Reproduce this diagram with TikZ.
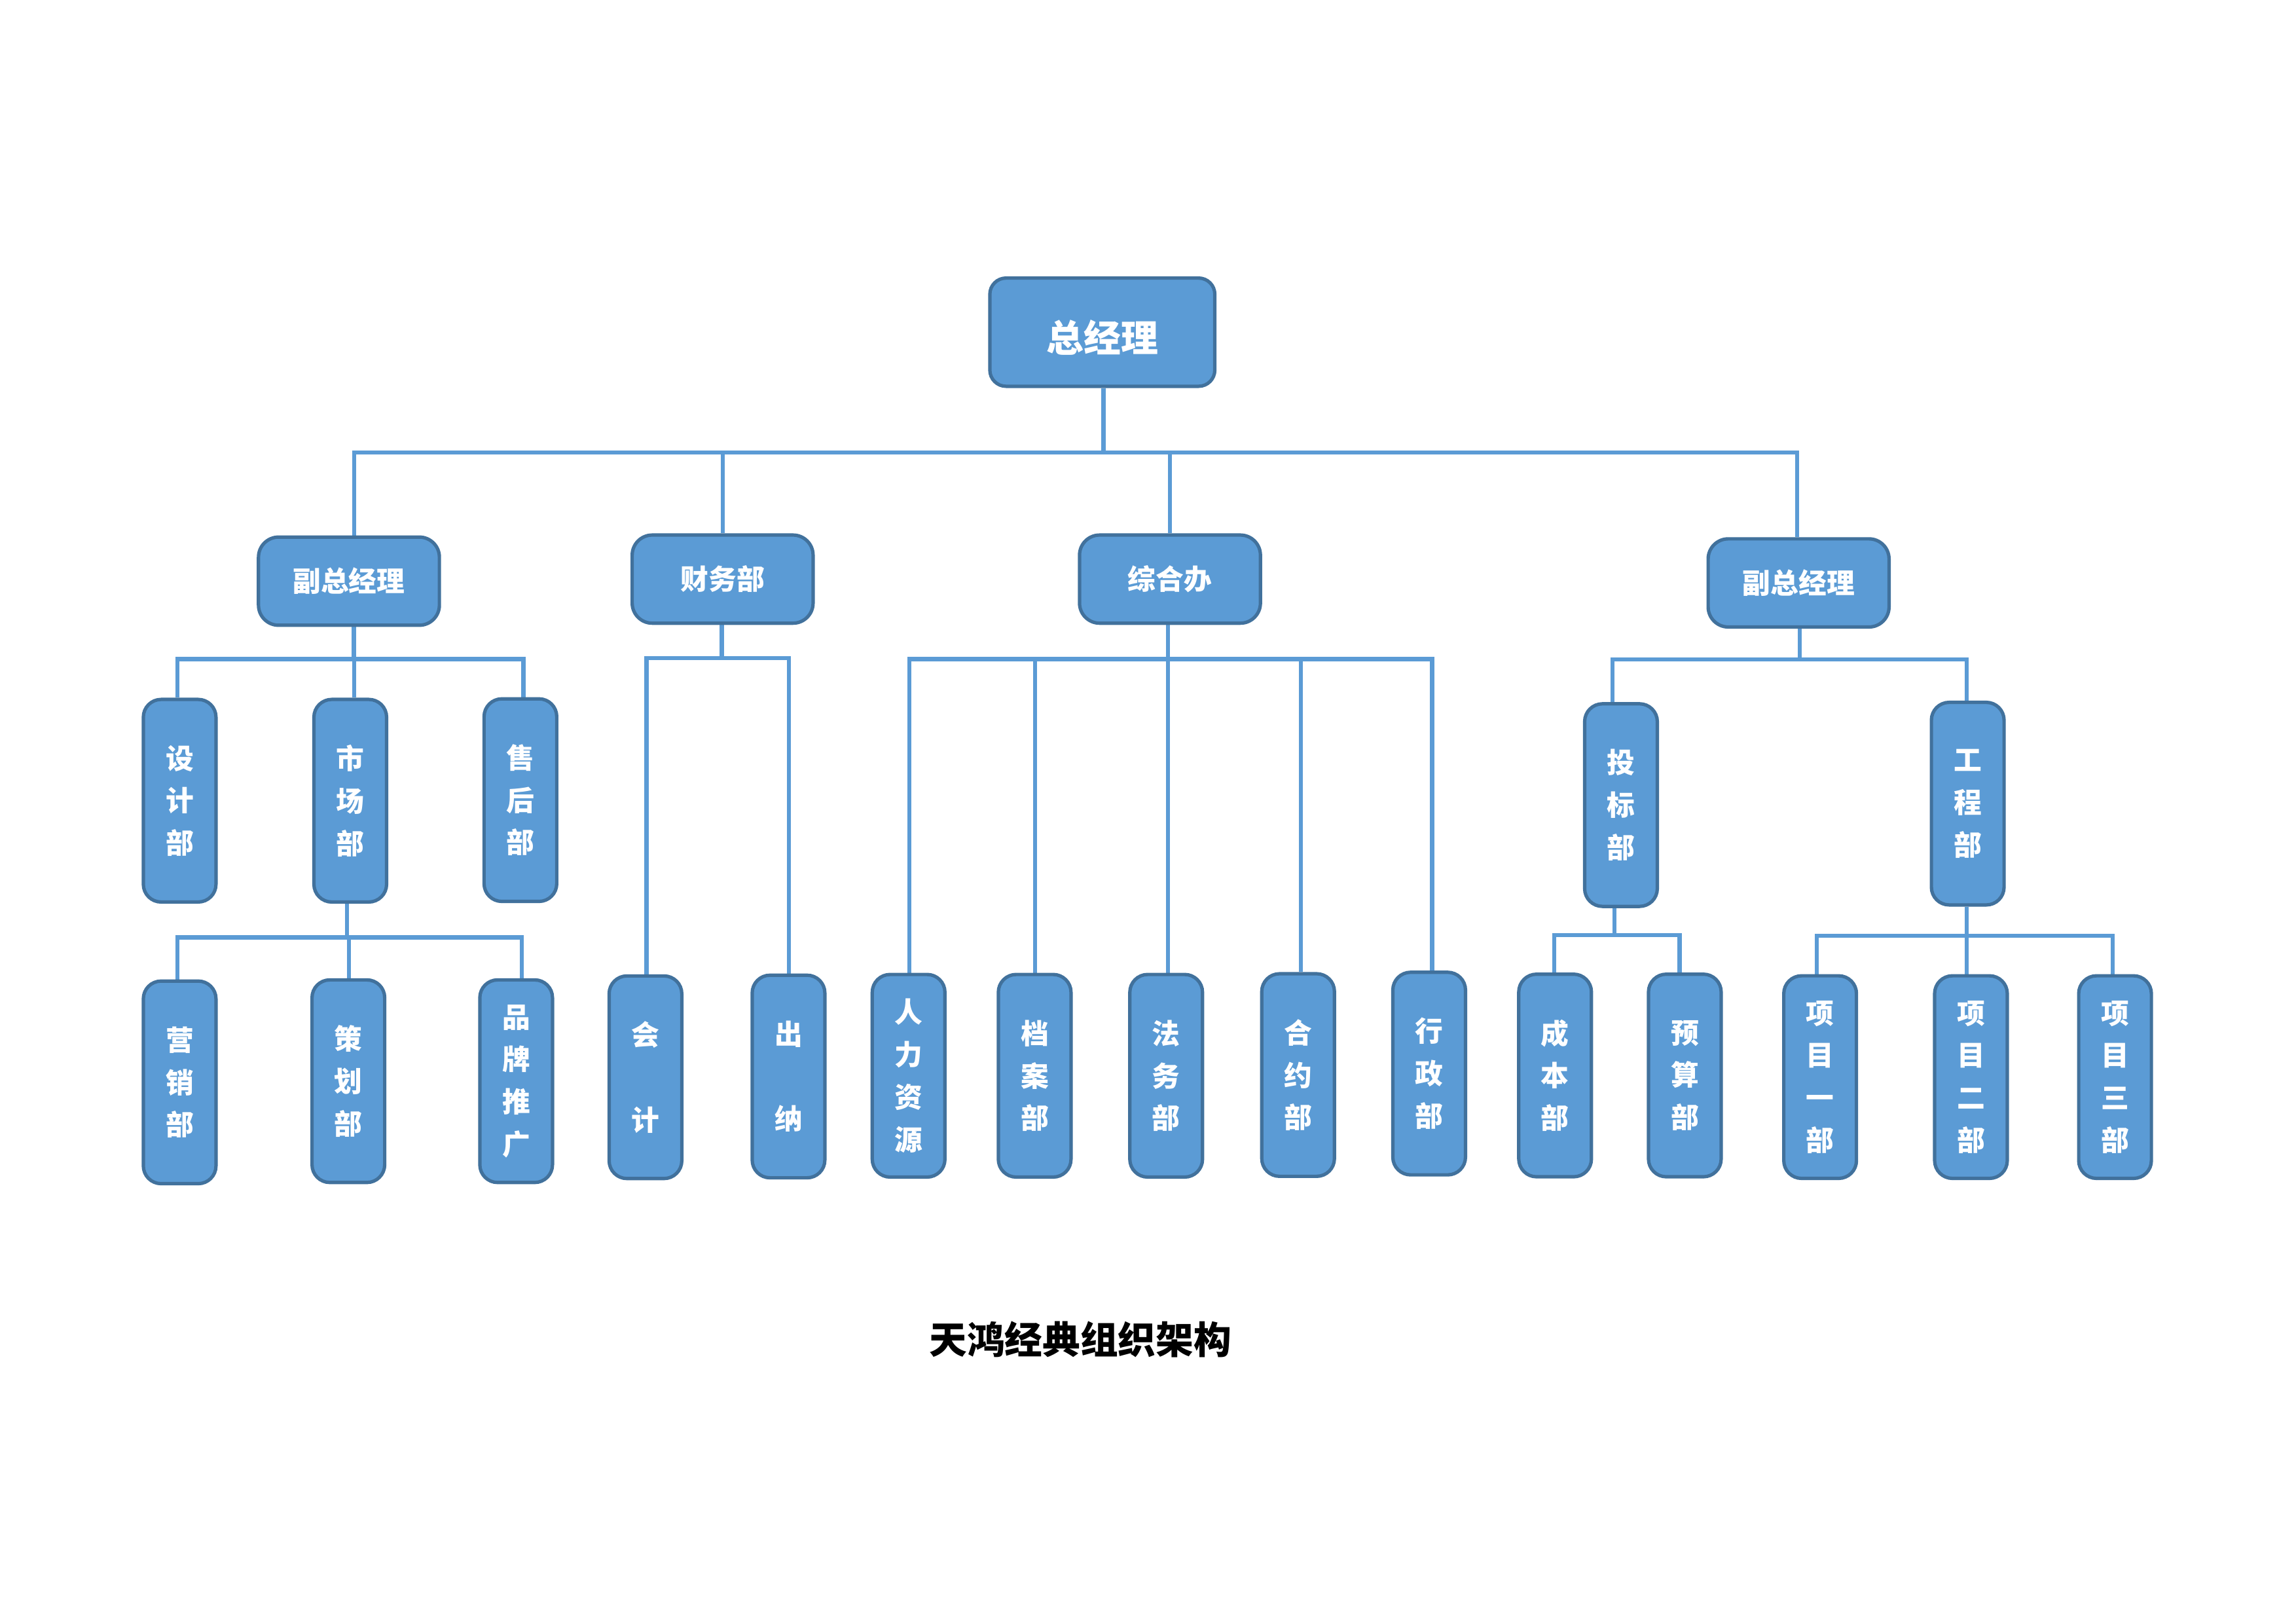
\documentclass[tikz,border=0pt]{standalone}
\usepackage{fontspec}
\newfontfamily\cjk{Noto Sans CJK SC}
\definecolor{boxfill}{HTML}{5B9BD5}
\definecolor{boxline}{HTML}{41719C}
\definecolor{connc}{HTML}{5B9BD5}
\pgfdeclarelayer{bg}
\pgfsetlayers{bg,main}
\begin{document}
\begin{tikzpicture}[x=0.18941mm,y=-0.18941mm,
  box/.style={draw=boxline, fill=boxfill, line width=1.25pt, text=white,
    inner sep=0pt, align=center, font=\cjk\bfseries\fontsize{10.3}{15.6}\selectfont},
  topbox/.style={box, minimum width=29.1mm, minimum height=14.0mm, rounded corners=2.1mm,
    font=\cjk\bfseries\fontsize{13.7}{16}\selectfont},
  midbox/.style={box, minimum width=23.4mm, minimum height=11.4mm, rounded corners=2.6mm},
  tallbox/.style={box, minimum width=9.4mm, minimum height=26.2mm, rounded corners=2.3mm},
  conn/.style={draw=connc, line width=1.5pt},
  titletext/.style={font=\cjk\bfseries\fontsize{13.9}{16}\selectfont, text=black, inner sep=0pt}]
\useasboundingbox (0,0) rectangle (1568,1108.8);

% level 1
\node[topbox] (gm) at (752.8,226.8) {\raisebox{-2pt}[\height][\depth]{总经理}};
% level 2
\node[midbox] (vpl) at (238.3,396.8) {副总经理};
\node[midbox] (fin) at (493.5,395.4) {财务部};
\node[midbox] (zh)  at (799,395.4) {综合办};
\node[midbox] (vpr) at (1228.3,398) {副总经理};
% level 3
\node[tallbox] (sj) at (122.7,546.7) {设\\计\\部};
\node[tallbox] (sc) at (239.2,546.7) {市\\场\\部};
\node[tallbox] (sh) at (355.4,546.3) {售\\后\\部};
\node[tallbox] (tb) at (1107,549.7) {投\\标\\部};
\node[tallbox] (gc) at (1343.8,548.7) {工\\程\\部};
% level 4
\node[tallbox] (yx) at (122.7,739) {营\\销\\部};
\node[tallbox] (ch) at (237.9,738.2) {策\\划\\部};
\node[tallbox] (pp) at (352.5,738.2) {品\\牌\\推\\广};
\node[tallbox] (kj) at (440.8,735.5) {会\\[15.6pt]计};
\node[tallbox] (cn) at (538.5,735) {出\\[15.6pt]纳};
\node[tallbox] (rl) at (620.5,734.5) {人\\力\\资\\源};
\node[tallbox] (da) at (706.6,734.5) {档\\案\\部};
\node[tallbox] (fw) at (796.4,734.5) {法\\务\\部};
\node[tallbox] (hy) at (886.5,734) {合\\约\\部};
\node[tallbox] (xz) at (976,733) {行\\政\\部};
\node[tallbox] (cb) at (1062,734.3) {成\\本\\部};
\node[tallbox] (ys) at (1150.6,734.3) {预\\算\\部};
\node[tallbox] (x1) at (1243,735.4) {项\\目\\一\\部};
\node[tallbox] (x2) at (1346,735.4) {项\\目\\二\\部};
\node[tallbox] (x3) at (1444.4,735.4) {项\\目\\三\\部};

\node[titletext] (title) at (737.8,914.5) {天鸿经典组织架构};

\coordinate (bus1) at (0,309);
\coordinate (bus2) at (0,450);
\coordinate (bus3) at (0,640);
\coordinate (bus4) at (0,449.3);
\coordinate (bus5) at (0,450);
\coordinate (bus6) at (0,450.2);
\coordinate (bus7) at (0,638.4);
\coordinate (bus8) at (0,639);

\begin{pgfonlayer}{bg}
% general manager
\foreach \c/\s in {vpl/2pt, fin/0pt, zh/0pt, vpr/-0.5pt}
  \draw[conn] ([xshift=0.4pt]gm.south) -- ([xshift=0.4pt]gm.south |- bus1) -| ([xshift=\s]\c.north);
% left vice GM
\foreach \c/\s in {sj/-0.9pt, sc/1.5pt, sh/1.1pt}
  \draw[conn] ([xshift=1.8pt]vpl.south) -- ([xshift=1.8pt]vpl.south |- bus2) -| ([xshift=\s]\c.north);
% market dept
\foreach \c/\s in {yx/-0.9pt, ch/0.2pt, pp/2pt}
  \draw[conn] ([xshift=-1.2pt]sc.south) -- ([xshift=-1.2pt]sc.south |- bus3) -| ([xshift=\s]\c.north);
% finance
\foreach \c/\s in {kj/0.4pt, cn/0.1pt}
  \draw[conn] ([xshift=-0.3pt]fin.south) -- ([xshift=-0.3pt]fin.south |- bus4) -| ([xshift=\s]\c.north);
% general office
\foreach \c/\s in {rl/0.3pt, da/0.1pt, fw/0.6pt, hy/1.1pt, xz/1.1pt}
  \draw[conn] ([xshift=-0.8pt]zh.south) -- ([xshift=-0.8pt]zh.south |- bus5) -| ([xshift=\s]\c.north);
% right vice GM
\foreach \c/\s in {tb/-3.2pt, gc/-0.3pt}
  \draw[conn] ([xshift=0.4pt]vpr.south) -- ([xshift=0.4pt]vpr.south |- bus6) -| ([xshift=\s]\c.north);
% bidding
\foreach \c/\s in {cb/-0.4pt, ys/-1.9pt}
  \draw[conn] ([xshift=-2.4pt]tb.south) -- ([xshift=-2.4pt]tb.south |- bus7) -| ([xshift=\s]\c.north);
% engineering
\foreach \c/\s in {x1/-1.2pt, x2/-1.5pt, x3/-0.9pt}
  \draw[conn] ([xshift=-0.4pt]gc.south) -- ([xshift=-0.4pt]gc.south |- bus8) -| ([xshift=\s]\c.north);
\end{pgfonlayer}
\end{tikzpicture}
\end{document}
